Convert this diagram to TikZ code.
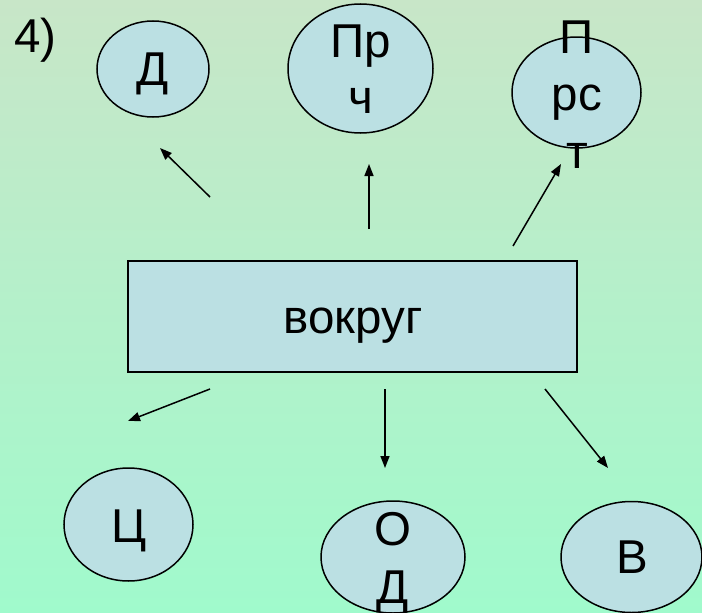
\documentclass[tikz,border=0pt]{standalone}
\usepackage{fontspec}
\setmainfont{Liberation Sans}
\usetikzlibrary{arrows.meta,shapes.geometric}
\definecolor{boxfill}{RGB}{187,224,227}
\definecolor{bgtop}{RGB}{200,230,200}
\definecolor{bgbot}{RGB}{160,250,204}
\begin{document}
\begin{tikzpicture}[x=1pt,y=-1pt,
  bubble/.style={ellipse,draw=black,line width=1.5pt,fill=boxfill,inner sep=0pt},
  txt/.style={font=\fontsize{47.5}{55}\selectfont,anchor=base,inner sep=0pt},
  arr/.style={line width=1.5pt,-{Triangle[length=12pt,width=9pt]}}]
\shade[top color=bgtop,bottom color=bgbot] (0,0) rectangle (702,613);
\useasboundingbox (0,0) rectangle (702,613);
\clip (0,0) rectangle (702,613);

% label
\node[txt,anchor=base west] (num) at (14,52) {4)};

% central box
\node[draw=black,line width=2pt,fill=boxfill,minimum width=449pt,minimum height=111pt,inner sep=0pt] (box) at (352.5,316.5) {};
\node[txt] (boxt) at (353,333) {вокруг};

% top ellipses
\node[bubble,minimum width=112pt,minimum height=96pt] (d) at (153,69) {};
\node[txt] (dt) at (153,85) {Д};

\node[bubble,minimum width=145pt,minimum height=129pt] (prch) at (360.5,68.5) {};
\node[txt] (prch1) at (361,57) {Пр};
\node[txt] (prch2) at (361,113) {ч};

\node[bubble,minimum width=129pt,minimum height=111pt] (prst) at (576.5,92.5) {};
\node[txt] (prst1) at (577,53) {П};
\node[txt] (prst2) at (577,110) {рс};
\node[txt] (prst3) at (577,168) {т};

% bottom ellipses
\node[bubble,minimum width=129pt,minimum height=113pt] (c) at (128.5,524.5) {};
\node[txt] (ct) at (129,542) {Ц};

\node[bubble,minimum width=144pt,minimum height=112pt] (od) at (393,557) {};
\node[txt] (od1) at (393,545) {О};
\node[txt] (od2) at (393,603) {Д};

\node[bubble,minimum width=141pt,minimum height=111pt] (v) at (631.5,557) {};
\node[txt] (vt) at (632,573) {В};

% arrow end points
\coordinate (a1s) at (210,197); \coordinate (a1e) at (160,148);
\coordinate (a2s) at (369,229); \coordinate (a2e) at (369,164);
\coordinate (a3s) at (513,246); \coordinate (a3e) at (561,164);
\coordinate (a4s) at (210,389); \coordinate (a4e) at (128,421);
\coordinate (a5s) at (385,389); \coordinate (a5e) at (385,468);
\coordinate (a6s) at (545,389); \coordinate (a6e) at (608,468);

\draw[arr] (a1s) -- (a1e);
\draw[arr] (a2s) -- (a2e);
\draw[arr] (a3s) -- (a3e);
\draw[arr] (a4s) -- (a4e);
\draw[arr] (a5s) -- (a5e);
\draw[arr] (a6s) -- (a6e);
\end{tikzpicture}
\end{document}
